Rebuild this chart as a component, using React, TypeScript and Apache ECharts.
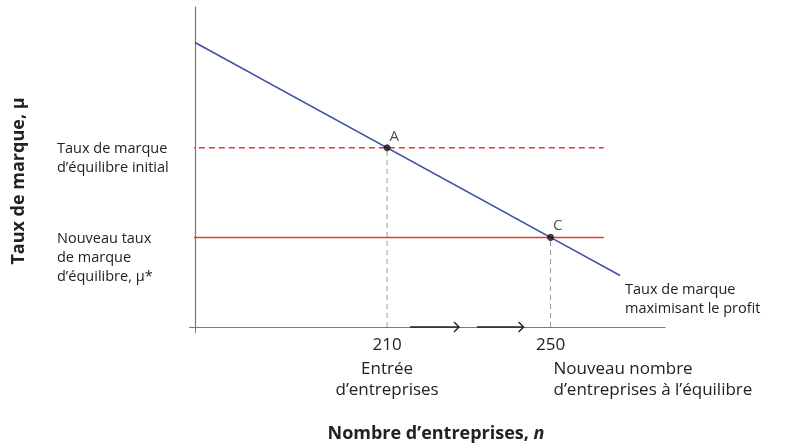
import React, { useEffect, useRef } from 'react';
import * as echarts from 'echarts';

// x: number of firms n, y: markup mu (arbitrary units)
const nTicks = [210, 250];
const nTickLabels = ['210', '250'];
const muLevels = [56, 28];
const muLabels = ['Taux de marque\nd\u2019équilibre initial', 'Nouveau taux\nde marque\nd\u2019équilibre, μ*'];
const curveN = [163, 267];
const curveMu = [88.9, 16.1];
const levelStartN = 161.5;
const levelEndN = 263;
const pointNames = ['A', 'C'];
const entryArrows = [
  [215.6, 227.6],
  [232, 243.4],
];
const nNotes = ['Entrée\nd\u2019entreprises', 'Nouveau nombre\nd\u2019entreprises à l\u2019équilibre'];

const FONT = '"Open Sans", "Noto Sans", sans-serif';
const BLUE = '#3b4ea3';
const RED = '#e23c2c';
const GREY = '#7a7a7a';

const App: React.FC = () => {
  const chartRef = useRef<HTMLDivElement>(null);

  useEffect(() => {
    if (!chartRef.current) return;
    const chart = echarts.init(chartRef.current, null, { renderer: 'svg' });

    const options: echarts.EChartsOption = {
      animation: false,
      textStyle: { fontFamily: FONT },
      grid: { left: 195, right: 145, top: 7, bottom: 117 },
      xAxis: {
        type: 'value',
        min: 163,
        max: 278,
        splitLine: { show: false },
        axisLine: { lineStyle: { color: GREY, width: 1.2 } },
        axisTick: { customValues: [163], length: 6, lineStyle: { color: GREY } },
        axisLabel: {
          customValues: nTicks,
          formatter: (v: number) => nTickLabels[nTicks.indexOf(v)] ?? '',
          fontSize: 17,
          color: '#222',
          margin: 8,
        },
      },
      yAxis: {
        type: 'value',
        min: 0,
        max: 100,
        splitLine: { show: false },
        axisLine: { show: true, lineStyle: { color: GREY, width: 1.2 } },
        axisTick: { show: true, customValues: [0], length: 6, lineStyle: { color: GREY } },
        axisLabel: { show: false },
      },
      series: [
        {
          type: 'line',
          data: curveN.map((n, i) => [n, curveMu[i]]),
          symbol: 'none',
          lineStyle: { color: BLUE, width: 1.5 },
          z: 3,
        },
        {
          type: 'line',
          data: [[levelStartN, muLevels[0]], [levelEndN, muLevels[0]]],
          symbol: 'none',
          clip: false,
          lineStyle: { color: RED, width: 1.5, type: [6, 4] },
        },
        {
          type: 'line',
          data: [[levelStartN, muLevels[1]], [levelEndN, muLevels[1]]],
          symbol: 'none',
          clip: false,
          lineStyle: { color: RED, width: 1.5 },
        },
        ...nTicks.map((n, i) => ({
          type: 'line' as const,
          data: [[n, 0], [n, muLevels[i]]],
          symbol: 'none',
          lineStyle: { color: '#9a9a9a', width: 1, type: [5, 4] as number[] },
        })),
        {
          type: 'scatter',
          data: nTicks.map((n, i) => ({ value: [n, muLevels[i]], name: pointNames[i] })),
          symbolSize: 7,
          itemStyle: { color: '#111' },
          z: 5,
          label: {
            show: true,
            formatter: '{b}',
            position: [6, -17],
            fontSize: 15,
            color: '#222',
          },
        },
        {
          type: 'custom',
          data: entryArrows,
          encode: { x: [0, 1] },
          clip: false,
          renderItem: (_params: any, api: any) => {
            const s = api.coord([api.value(0), 0]);
            const e = api.coord([api.value(1), 0]);
            const st = { stroke: '#222', lineWidth: 1.4, fill: 'none' };
            return {
              type: 'group',
              children: [
                { type: 'line', shape: { x1: s[0], y1: s[1], x2: e[0], y2: e[1] }, style: st },
                {
                  type: 'polyline',
                  shape: { points: [[e[0] - 5, e[1] - 5], [e[0], e[1]], [e[0] - 5, e[1] + 5]] },
                  style: st,
                },
              ],
            };
          },
        },
      ],
    };

    chart.setOption(options);

    // text annotations placed from the data positions
    const px = (n: number, mu: number) => chart.convertToPixel({ gridIndex: 0 }, [n, mu]) as number[];
    const yLabelX = 57;
    const textBase = { fontFamily: FONT, fontSize: 14.5, fill: '#222', lineHeight: 19 };
    const graphics: any[] = [];
    muLevels.forEach((mu, i) => {
      const p = px(163, mu);
      graphics.push({
        type: 'text',
        x: yLabelX,
        y: p[1] - 9.5,
        style: { ...textBase, text: muLabels[i], align: 'left', verticalAlign: 'top' },
      });
    });
    const p210 = px(nTicks[0], 0);
    const p250 = px(nTicks[1], 0);
    const noteStyle = { ...textBase, fontSize: 17, lineHeight: 21, verticalAlign: 'top' };
    graphics.push({
      type: 'text',
      x: p210[0],
      y: p210[1] + 30,
      style: { ...noteStyle, text: nNotes[0], align: 'center' },
    });
    graphics.push({
      type: 'text',
      x: p250[0] + 3,
      y: p250[1] + 30,
      style: { ...noteStyle, text: nNotes[1], align: 'left' },
    });
    const pEnd = px(curveN[1], curveMu[1]);
    graphics.push({
      type: 'text',
      x: pEnd[0] + 5,
      y: pEnd[1] + 4,
      style: { ...textBase, text: 'Taux de marque\nmaximisant le profit', align: 'left', verticalAlign: 'top' },
    });
    graphics.push({
      type: 'text',
      x: 436,
      y: 432,
      style: {
        text: '{b|Nombre d\u2019entreprises, }{i|n}',
        align: 'center',
        verticalAlign: 'middle',
        rich: {
          b: { fontFamily: FONT, fontSize: 18, fontWeight: 'bold', fill: '#222' },
          i: { fontFamily: FONT, fontSize: 18, fontWeight: 'bold', fontStyle: 'italic', fill: '#222' },
        },
      },
    });
    graphics.push({
      type: 'text',
      x: 17,
      y: 181,
      rotation: Math.PI / 2,
      style: {
        ...textBase,
        text: 'Taux de marque, μ',
        fontSize: 18,
        fontWeight: 'bold',
        align: 'center',
        verticalAlign: 'middle',
      },
    });
    chart.setOption({ graphic: graphics });

    return () => {
      chart.dispose();
    };
  }, []);

  return (
    <div
      ref={chartRef}
      style={{ position: 'fixed', left: 0, top: 0, width: '810px', height: '444px' }}
    />
  );
};

export default App;
